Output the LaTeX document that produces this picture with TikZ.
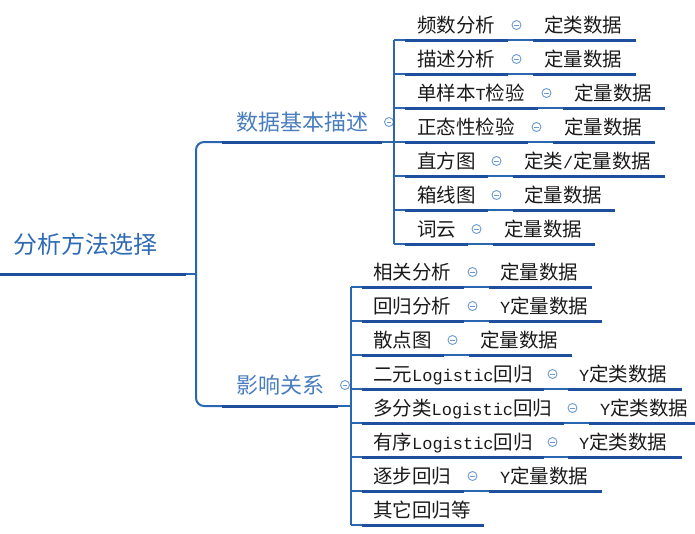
\documentclass[tikz,border=0pt]{standalone}
\usepackage{fontspec}
\setmainfont{Noto Sans CJK SC}
\newfontfamily\lat[Scale=0.87]{Liberation Mono}
\definecolor{ulblue}{HTML}{1E4F9E}
\definecolor{thinblue}{HTML}{2B66B1}
\definecolor{brtext}{HTML}{4A7DBE}
\definecolor{roottext}{HTML}{2E6BB5}
\definecolor{markblue}{HTML}{6B9BD2}
\definecolor{leaftext}{HTML}{1A1A1A}
\tikzset{
  ul/.style={line width=3pt, ulblue},
  thinln/.style={line width=1.2pt, thinblue},
  vline/.style={line width=2pt, thinblue},
  txt/.style={inner sep=0pt, anchor=west, text=leaftext, font=\fontsize{19.5}{19.5}\selectfont, text height=17.2pt, text depth=2.3pt},
  brtxt/.style={inner sep=0pt, anchor=west, text=brtext, font=\fontsize{22}{22}\selectfont, text height=19.4pt, text depth=2.6pt},
  roottxt/.style={inner sep=0pt, anchor=west, text=roottext, font=\fontsize{24}{24}\selectfont, text height=21.1pt, text depth=2.9pt},
  collapse/.style={circle, draw=markblue, line width=0.9pt, fill=white, minimum size=9pt, inner sep=0pt,
    path picture={\draw[markblue, line width=0.9pt] ([xshift=-2.3pt]path picture bounding box.center) -- ([xshift=2.3pt]path picture bounding box.center);}}
}
\begin{document}
\begin{tikzpicture}[x=1pt, y=-1pt]
\useasboundingbox (0,0) rectangle (695,533);

% root
\node[roottxt] (root) at (13,244) {分析方法选择};
\coordinate (r0) at (0,274);
\coordinate (r1) at (186,274);
\coordinate (j) at (196,274);
\draw[ul] (r0) -- (r1);
\draw[thinln] (r1) -- (j);

% trunk
\coordinate (b1s) at (222,142);
\coordinate (b1e) at (382,142);
\coordinate (b1v) at (394,142);
\coordinate (b2s) at (222,406);
\coordinate (b2e) at (338,406);
\coordinate (b2v) at (351,406);
\draw[vline, rounded corners=8pt] (b1s) -- (196,142) -- (196,406) -- (b2s);

% branch 1
\draw[ul] (b1s) -- (b1e);
\draw[thinln] (b1e) -- (b1v);
\node[brtxt] (br1) at (236,122) {数据基本描述};
\node[collapse] (br1m) at (389,122) {};
\coordinate (v1t) at (394,40);
\coordinate (v1b) at (394,244);
\draw[thinln] (v1t) -- (v1b);

\foreach \y/\t/\e/\ls/\le/\lt in {
  40/{频数分析}/508/533/636/{定类数据},
  74/{描述分析}/508/533/636/{定量数据},
  108/{单样本{\lat T}检验}/538/563/665/{定量数据},
  142/{正态性检验}/528/553/655/{定量数据},
  176/{直方图}/488/513/665/{定类{\lat /}定量数据},
  210/{箱线图}/488/513/615/{定量数据},
  244/{词云}/468/493/595/{定量数据}}{
  \coordinate (a\y) at (394,\y);
  \coordinate (s\y) at (405,\y);
  \coordinate (e\y) at (\e,\y);
  \coordinate (ls\y) at (\ls,\y);
  \coordinate (le\y) at (\le,\y);
  \draw[thinln] (a\y) -- (s\y);
  \draw[ul] (s\y) -- (e\y);
  \draw[thinln] (e\y) -- (ls\y);
  \draw[ul] (ls\y) -- (le\y);
  \node[txt] (t\y) at (417,\y-15) {\t};
  \node[collapse] (m\y) at (\e+8.5,\y-15) {};
  \node[txt] (lt\y) at (\ls+11,\y-15) {\lt};
}

% branch 2
\draw[ul] (b2s) -- (b2e);
\draw[thinln] (b2e) -- (b2v);
\node[brtxt] (br2) at (236,385) {影响关系};
\node[collapse] (br2m) at (345,385) {};
\coordinate (v2t) at (351,287);
\coordinate (v2b) at (351,525);
\draw[thinln] (v2t) -- (v2b);

\foreach \y/\t/\e/\ls/\le/\lt in {
  287/{相关分析}/464/489/592/{定量数据},
  321/{回归分析}/464/489/602/{{\lat Y}定量数据},
  355/{散点图}/444/469/572/{定量数据},
  389/{二元{\lat Logistic}回归}/544/568/682/{{\lat Y}定类数据},
  423/{多分类{\lat Logistic}回归}/564/589/695/{{\lat Y}定类数据},
  457/{有序{\lat Logistic}回归}/544/568/682/{{\lat Y}定类数据},
  491/{逐步回归}/464/489/602/{{\lat Y}定量数据}}{
  \coordinate (a\y) at (351,\y);
  \coordinate (s\y) at (362,\y);
  \coordinate (e\y) at (\e,\y);
  \coordinate (ls\y) at (\ls,\y);
  \coordinate (le\y) at (\le,\y);
  \draw[thinln] (a\y) -- (s\y);
  \draw[ul] (s\y) -- (e\y);
  \draw[thinln] (e\y) -- (ls\y);
  \draw[ul] (ls\y) -- (le\y);
  \node[txt] (t\y) at (373,\y-15) {\t};
  \node[collapse] (m\y) at (\e+8.5,\y-15) {};
  \node[txt] (lt\y) at (\ls+11,\y-15) {\lt};
}
% last child (no leaf)
\coordinate (a525) at (351,525);
\coordinate (s525) at (362,525);
\coordinate (e525) at (484,525);
\draw[thinln] (a525) -- (s525);
\draw[ul] (s525) -- (e525);
\node[txt] (t525) at (373,510) {其它回归等};
\end{tikzpicture}
\end{document}
